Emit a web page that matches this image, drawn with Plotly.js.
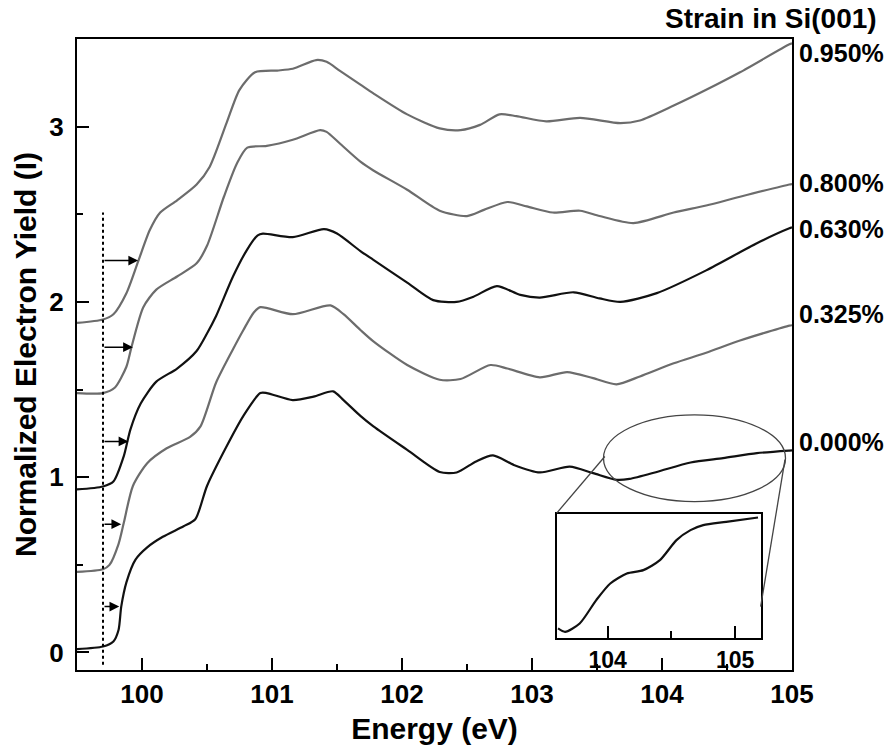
<!DOCTYPE html>
<html>
<head>
<meta charset="utf-8">
<script src="https://cdn.plot.ly/plotly-3.0.1.min.js"></script>
<style>
  html, body { margin: 0; padding: 0; background: #ffffff; }
  #chart { width: 890px; height: 749px; }
</style>
</head>
<body>
<div id="chart"></div>
<script>
// Si L-edge electron yield spectra for increasing biaxial strain in Si(001)

const strainLabels = ['0.000%', '0.325%', '0.630%', '0.800%', '0.950%'];

const energy000 = [99.50, 99.70, 99.78, 99.82, 99.84, 99.88, 99.95, 100.04, 100.16, 100.32, 100.41, 100.50, 100.65, 100.78, 100.91, 100.96, 101.16, 101.32, 101.47, 101.55, 101.68, 101.78, 102.04, 102.29, 102.42, 102.57, 102.70, 102.86, 103.06, 103.29, 103.47, 103.65, 103.75, 103.96, 104.22, 104.47, 104.73, 104.98, 105.00];
const yield000  = [0.019, 0.034, 0.063, 0.13, 0.26, 0.40, 0.53, 0.60, 0.66, 0.72, 0.76, 0.95, 1.175, 1.35, 1.48, 1.48, 1.44, 1.46, 1.49, 1.44, 1.35, 1.29, 1.156, 1.03, 1.027, 1.09, 1.124, 1.07, 1.027, 1.06, 1.023, 0.985, 0.99, 1.03, 1.084, 1.109, 1.137, 1.152, 1.153];

const energy325 = [99.50, 99.70, 99.75, 99.82, 99.86, 99.93, 100.04, 100.19, 100.37, 100.45, 100.57, 100.70, 100.78, 100.86, 100.91, 101.16, 101.45, 101.55, 101.68, 101.78, 102.04, 102.29, 102.45, 102.68, 102.81, 103.06, 103.27, 103.47, 103.65, 103.83, 104.09, 104.34, 104.60, 104.98, 105.00];
const yield325  = [0.46, 0.475, 0.50, 0.62, 0.74, 0.95, 1.08, 1.165, 1.23, 1.29, 1.54, 1.73, 1.84, 1.94, 1.97, 1.93, 1.98, 1.93, 1.84, 1.775, 1.64, 1.556, 1.56, 1.64, 1.62, 1.57, 1.60, 1.565, 1.53, 1.575, 1.65, 1.71, 1.78, 1.865, 1.867];

const energy630 = [99.50, 99.70, 99.78, 99.86, 99.91, 99.99, 100.11, 100.27, 100.42, 100.50, 100.57, 100.70, 100.81, 100.89, 100.93, 101.16, 101.40, 101.50, 101.68, 101.78, 102.04, 102.24, 102.42, 102.55, 102.73, 102.91, 103.06, 103.32, 103.52, 103.68, 103.96, 104.34, 104.73, 104.98, 105.00];
const yield630  = [0.93, 0.947, 0.975, 1.12, 1.27, 1.42, 1.545, 1.62, 1.72, 1.82, 1.92, 2.145, 2.30, 2.38, 2.39, 2.37, 2.415, 2.39, 2.29, 2.24, 2.11, 2.01, 2.00, 2.03, 2.09, 2.04, 2.025, 2.055, 2.02, 2.00, 2.05, 2.18, 2.335, 2.42, 2.425];

const energy800 = [99.50, 99.70, 99.79, 99.88, 99.92, 100.01, 100.11, 100.27, 100.42, 100.50, 100.63, 100.73, 100.81, 100.96, 101.16, 101.37, 101.42, 101.52, 101.68, 101.78, 102.04, 102.29, 102.50, 102.63, 102.81, 102.96, 103.16, 103.37, 103.52, 103.78, 104.09, 104.34, 104.60, 104.98, 105.00];
const yield800  = [1.48, 1.48, 1.51, 1.63, 1.745, 1.97, 2.07, 2.145, 2.22, 2.32, 2.60, 2.79, 2.88, 2.89, 2.925, 2.98, 2.97, 2.905, 2.80, 2.75, 2.64, 2.52, 2.49, 2.525, 2.57, 2.545, 2.51, 2.52, 2.49, 2.45, 2.51, 2.55, 2.60, 2.67, 2.672];

const energy950 = [99.50, 99.70, 99.78, 99.88, 99.97, 100.06, 100.14, 100.27, 100.42, 100.52, 100.65, 100.75, 100.87, 101.04, 101.16, 101.34, 101.42, 101.52, 101.68, 101.78, 102.04, 102.29, 102.45, 102.60, 102.75, 102.88, 103.11, 103.37, 103.68, 103.83, 104.09, 104.34, 104.60, 104.98, 105.00];
const yield950  = [1.88, 1.90, 1.93, 2.05, 2.23, 2.41, 2.51, 2.58, 2.67, 2.77, 3.02, 3.21, 3.31, 3.32, 3.33, 3.38, 3.37, 3.32, 3.24, 3.19, 3.07, 2.99, 2.98, 3.01, 3.07, 3.06, 3.03, 3.05, 3.02, 3.035, 3.12, 3.21, 3.31, 3.47, 3.475];

// close-up of the unstrained spectrum near 104 eV (arbitrary units)
const insetEnergy = [103.61, 103.665, 103.78, 103.91, 104.02, 104.15, 104.28, 104.41, 104.54, 104.65, 104.75, 104.93, 105.18];
const insetYield  = [0.08, 0.053, 0.12, 0.307, 0.44, 0.52, 0.547, 0.627, 0.787, 0.867, 0.907, 0.933, 0.968];

// edge-onset markers: arrow tip energy and height for each spectrum
const onsetEnergy = [99.825, 99.84, 99.895, 99.93, 99.97];
const onsetLevel  = [0.262, 0.732, 1.204, 1.742, 2.236];
const referenceEdge = 99.70;

const xTicks = [100, 101, 102, 103, 104, 105];
const yTicks = [0, 1, 2, 3];
const insetTicks = [104, 105];

const FONT = 'Liberation Sans, Arial, Helvetica, sans-serif';
const GRAY = '#6c6c6c';
const DARK = '#111111';

const series = [
  { x: energy000, y: yield000, color: DARK },
  { x: energy325, y: yield325, color: GRAY },
  { x: energy630, y: yield630, color: DARK },
  { x: energy800, y: yield800, color: GRAY },
  { x: energy950, y: yield950, color: GRAY }
];

const traces = series.map((s, i) => ({
  type: 'scatter', mode: 'lines', name: strainLabels[i],
  x: s.x, y: s.y, xaxis: 'x', yaxis: 'y',
  line: { color: s.color, width: 2.2, shape: 'spline', smoothing: 0.7 },
  hoverinfo: 'skip'
}));

traces.push({
  type: 'scatter', mode: 'lines', name: 'inset',
  x: insetEnergy, y: insetYield, xaxis: 'x2', yaxis: 'y2',
  line: { color: DARK, width: 2.2, shape: 'spline', smoothing: 0.7 },
  hoverinfo: 'skip'
});

// right-hand strain labels, placed level with each curve end
const labelLevels = [1.198, 1.932, 2.415, 2.681, 3.421];
const annotations = strainLabels.map((t, i) => ({
  xref: 'paper', yref: 'y', x: 1.007, y: labelLevels[i],
  xanchor: 'left', yanchor: 'middle', showarrow: false, text: t,
  font: { family: FONT, size: 25, color: '#000', weight: 'bold' }
}));
annotations.push({
  xref: 'paper', yref: 'paper', x: 0.9713, y: 1.0317,
  xanchor: 'center', yanchor: 'middle', showarrow: false,
  text: 'Strain in Si(001)',
  font: { family: FONT, size: 28, color: '#000', weight: 'bold' }
});
onsetEnergy.forEach((e, i) => {
  annotations.push({
    xref: 'x', yref: 'y', x: e, y: onsetLevel[i],
    axref: 'x', ayref: 'y', ax: referenceEdge, ay: onsetLevel[i],
    text: '', showarrow: true, arrowhead: 2, arrowsize: 1.3,
    arrowwidth: 1.5, arrowcolor: '#000', standoff: 0
  });
});

const shapes = [
  { type: 'line', xref: 'x', yref: 'y', x0: referenceEdge, x1: referenceEdge, y0: -0.07, y1: 2.51,
    line: { color: '#000', width: 2, dash: 'dot' } },
  { type: 'circle', xref: 'x', yref: 'y', x0: 103.55, x1: 104.95, y0: 0.861, y1: 1.356,
    line: { color: '#444', width: 1.3 } },
  { type: 'line', xref: 'x', yref: 'y', x0: 103.56, y0: 1.118, x1: 103.19, y1: 0.795,
    line: { color: '#444', width: 1.3 } },
  { type: 'line', xref: 'x', yref: 'y', x0: 104.946, y0: 1.10, x1: 104.759, y1: 0.262,
    line: { color: '#444', width: 1.3 } }
];

const tickFont = { family: FONT, size: 26, color: '#000', weight: 'bold' };
const titleFont = { family: FONT, size: 30, color: '#000', weight: 'bold' };

const layout = {
  width: 890, height: 749,
  margin: { l: 77, r: 98, t: 39, b: 79 },
  paper_bgcolor: '#ffffff', plot_bgcolor: '#ffffff',
  showlegend: false,
  font: { family: FONT, color: '#000' },
  xaxis: {
    range: [99.5, 105], tickvals: xTicks, ticktext: xTicks.map(String),
    ticks: 'inside', ticklen: 12, tickwidth: 2, tickcolor: '#000',
    minor: { dtick: 0.5, tick0: 99.5, ticks: 'inside', ticklen: 6, tickwidth: 2, tickcolor: '#000', showgrid: false },
    showline: true, linewidth: 2, linecolor: '#000', mirror: true,
    showgrid: false, zeroline: false, tickfont: tickFont,
    title: { text: 'Energy (eV)', font: titleFont, standoff: 10 }
  },
  yaxis: {
    range: [-0.1, 3.5], tickvals: yTicks, ticktext: yTicks.map(String),
    ticks: 'inside', ticklen: 12, tickwidth: 2, tickcolor: '#000',
    minor: { dtick: 0.5, tick0: 0, ticks: 'inside', ticklen: 6, tickwidth: 2, tickcolor: '#000', showgrid: false },
    showline: true, linewidth: 2, linecolor: '#000', mirror: true,
    showgrid: false, zeroline: false, tickfont: tickFont, ticklabelstandoff: 6,
    title: { text: 'Normalized Electron Yield (I)', font: titleFont, standoff: 4 }
  },
  xaxis2: {
    domain: [0.671, 0.956], anchor: 'y2', range: [103.6, 105.2],
    tickvals: insetTicks, ticktext: insetTicks.map(String),
    ticks: 'inside', ticklen: 12, tickwidth: 2, tickcolor: '#000',
    minor: { dtick: 0.5, tick0: 104, ticks: 'inside', ticklen: 7, tickwidth: 2, tickcolor: '#000', showgrid: false },
    showline: true, linewidth: 2, linecolor: '#000', mirror: true,
    showgrid: false, zeroline: false,
    tickfont: { family: FONT, size: 23, color: '#000', weight: 'bold' }
  },
  yaxis2: {
    domain: [0.050, 0.248], anchor: 'x2', range: [0, 1],
    showticklabels: false, ticks: '',
    showline: true, linewidth: 2, linecolor: '#000', mirror: true,
    showgrid: false, zeroline: false
  },
  annotations: annotations,
  shapes: shapes
};

Plotly.newPlot('chart', traces, layout, { staticPlot: true, displayModeBar: false });
</script>
</body>
</html>
